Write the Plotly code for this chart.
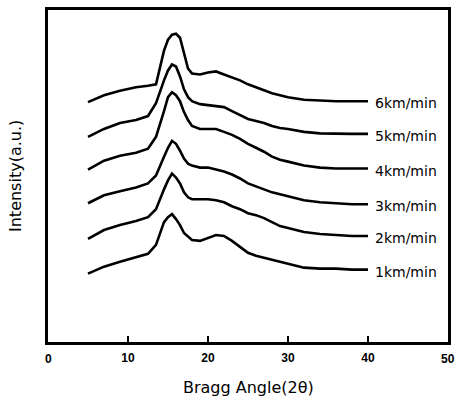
import plotly.graph_objects as go

# Bragg angle grid (2theta)
bragg_angle = [5, 7, 9, 11, 12.5, 13.5, 14.5, 15, 15.5, 16, 16.5, 17, 17.5, 18, 19, 20, 21,
               22, 23, 24, 25, 26, 27, 28, 29, 30, 32, 34, 36, 38, 40]

# Stacked intensities (a.u., offset curves as drawn)
int_6 = [242, 249, 253.5, 257, 258.5, 260, 294, 305, 310, 311, 307, 292, 276, 271, 270, 272, 273,
         270, 267, 264, 260, 257, 254, 251, 249, 247, 244.5, 243.5, 243, 243, 243]
int_5 = [207, 215, 221, 224, 228, 241, 264, 274, 280, 278, 268, 255, 247, 243, 240, 239, 238,
         237, 233, 229, 225, 223, 221, 218, 216, 215, 212, 210.5, 210, 210, 210]
int_4 = [174, 183, 188, 191, 195, 207, 233, 247, 252, 249, 243, 232, 224, 218, 215, 215, 215,
         212, 209, 205, 200, 196, 192, 187, 184, 182, 178, 176, 175, 175, 175]
int_3 = [140, 148, 152, 156, 160, 168, 187, 196, 203, 200, 193, 185, 180, 178, 176, 176, 174,
         172, 169, 165, 160, 157, 154, 151, 149, 147, 143, 141, 140, 139, 139]
int_2 = [104, 113, 118, 122, 126, 134, 154, 163, 170, 166, 160, 151, 146, 144, 144, 144, 143,
         141, 137, 134, 130, 128, 125, 121, 117, 115, 111, 109, 108, 107, 107]
int_1 = [69, 76, 81, 86, 89, 98, 121, 126, 129, 124, 118, 110, 106, 103, 102, 105, 108,
         107, 102, 96, 90, 87, 85, 83, 81, 79, 75, 74, 74, 73, 73]

series = [("6km/min", int_6), ("5km/min", int_5), ("4km/min", int_4),
          ("3km/min", int_3), ("2km/min", int_2), ("1km/min", int_1)]

x_ticks = [0, 10, 20, 30, 40, 50]

fig = go.Figure()
annotations = []
for name, vals in series:
    fig.add_trace(go.Scatter(x=bragg_angle, y=vals, mode="lines", name=name,
                             line=dict(color="black", width=2.6), showlegend=False))
    annotations.append(dict(x=bragg_angle[-1], y=vals[-1], xref="x", yref="y",
                            text=name, showarrow=False, xanchor="left", yanchor="middle",
                            xshift=5, yshift=-2,
                            font=dict(family="DejaVu Sans", size=14, color="black")))

annotations.append(dict(x=0.5, y=-0.137, xref="paper", yref="paper", text="Bragg Angle(2θ)",
                        showarrow=False, xanchor="center", yanchor="middle",
                        font=dict(family="DejaVu Sans", size=16, color="black")))
annotations.append(dict(x=-0.0825, y=0.5, xref="paper", yref="paper", text="Intensity(a.u.)",
                        showarrow=False, xanchor="center", yanchor="middle", textangle=-90,
                        font=dict(family="DejaVu Sans", size=16, color="black")))

fig.update_layout(
    width=458, height=399,
    margin=dict(l=48, r=10, t=7, b=57),
    plot_bgcolor="white", paper_bgcolor="white",
    annotations=annotations,
    xaxis=dict(range=[0, 50], tickvals=[10, 20, 30, 40], ticktext=["10", "20", "30", "40"],
               ticks="inside", ticklen=6, tickwidth=2, tickcolor="black",
               showline=True, linewidth=3, linecolor="black", mirror=True,
               showgrid=False, zeroline=False, showticklabels=True,
               tickfont=dict(family="Liberation Sans", size=12, color="black", weight="bold"),
               ticklabelstandoff=3),
    yaxis=dict(range=[0, 335], showticklabels=False, ticks="",
               showline=True, linewidth=3, linecolor="black", mirror=True,
               showgrid=False, zeroline=False),
)
# edge tick labels 0 and 50 (outside plotted ticks)
for v in [0, 50]:
    fig.add_annotation(x=v, y=0, xref="x", yref="paper", text=str(v), showarrow=False,
                       xanchor="center", yanchor="top", yshift=-8,
                       font=dict(family="Liberation Sans", size=12, color="black", weight="bold"))

fig.write_html("out.html", config={"displayModeBar": False},
               post_script="document.body.style.margin='0';")
